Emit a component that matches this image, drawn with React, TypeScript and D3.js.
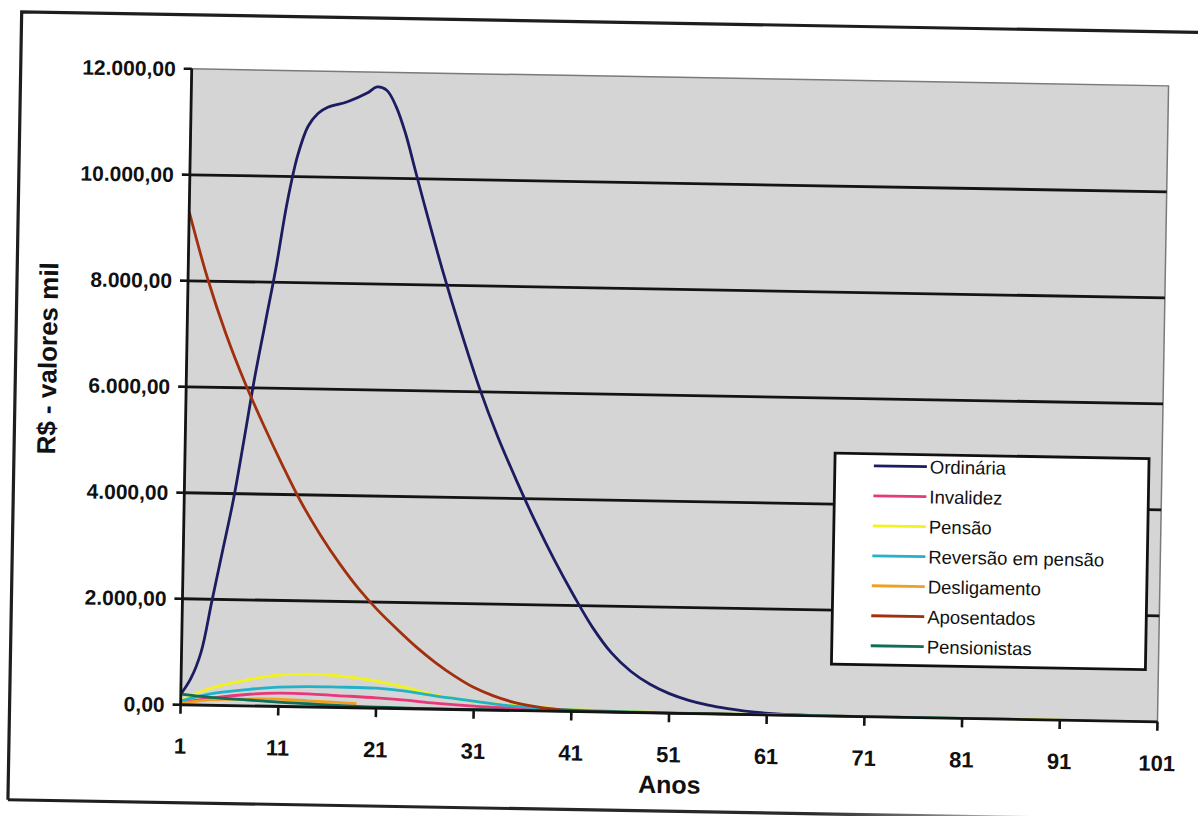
import React from "react";
import * as d3 from "d3";

// ---------- data ----------
const seriesNames = [
  "Ordinária",
  "Invalidez",
  "Pensão",
  "Reversão em pensão",
  "Desligamento",
  "Aposentados",
  "Pensionistas",
];
const seriesColors = ["#1c1c60", "#e8387c", "#f2f21e", "#22b2c8", "#f0a020", "#a0300e", "#0e6e58"];

const ordinariaYears = [1, 2, 3, 4, 5, 6, 7, 8, 9, 10, 11, 12, 13, 14, 15, 17, 19, 20, 21, 22, 23, 24, 25, 27, 29, 31, 33, 35, 37, 39, 41, 43, 45, 47, 49, 51, 53, 55, 57, 59, 62, 66, 70, 75];
const ordinariaValues = [200, 500, 1000, 1950, 2900, 3850, 5000, 6200, 7250, 8300, 9500, 10400, 10950, 11200, 11320, 11430, 11600, 11720, 11660, 11350, 10850, 10200, 9550, 8300, 7150, 6080, 5150, 4330, 3560, 2850, 2200, 1600, 1120, 780, 540, 370, 250, 165, 105, 60, 25, 5, 0, 0];

const invalidezYears = [1, 4, 8, 11, 14, 17, 21, 24, 27, 31, 34, 38, 45, 55, 65, 70];
const invalidezValues = [40, 130, 220, 250, 248, 225, 195, 160, 115, 72, 50, 30, 10, 3, 1, 0];

const pensaoYears = [1, 4, 8, 10, 14, 17, 21, 24, 27, 31, 36, 41, 46, 51, 56, 61, 66, 71, 76, 81, 86, 91];
const pensaoValues = [80, 320, 500, 570, 620, 600, 510, 400, 270, 160, 85, 40, 20, 10, 6, 4, 3, 2, 1, 1, 0, 0];

const reversaoYears = [1, 4, 8, 11, 14, 17, 21, 24, 27, 31, 34, 37, 41, 46, 51, 56, 61, 66, 71, 76, 81, 86];
const reversaoValues = [70, 213, 313, 363, 385, 385, 376, 330, 250, 165, 100, 60, 30, 15, 8, 5, 3, 2, 1, 1, 0, 0];

const desligamentoYears = [1, 4, 8, 11, 14, 17, 19];
const desligamentoValues = [25, 100, 130, 136, 115, 94, 80];

const aposentadosYears = [1, 3, 5, 7, 9, 11, 13, 15, 17, 19, 21, 23, 25, 27, 29, 31, 33, 35, 37, 39, 41, 45, 50, 58];
const aposentadosValues = [9300, 8050, 7000, 6100, 5300, 4550, 3850, 3250, 2720, 2250, 1850, 1500, 1170, 880, 630, 420, 270, 160, 90, 45, 20, 5, 0, 0];

const pensionistasYears = [1, 4, 8, 11, 14, 17, 21, 25, 30, 35, 40, 50, 61];
const pensionistasValues = [200, 150, 112, 80, 60, 38, 20, 10, 5, 3, 2, 1, 0];

const xTicks = [1, 11, 21, 31, 41, 51, 61, 71, 81, 91, 101];
const yTicks = [0, 2000, 4000, 6000, 8000, 10000, 12000];
const xTitle = "Anos";
const yTitle = "R$ - valores mil";

const allYears = [ordinariaYears, invalidezYears, pensaoYears, reversaoYears, desligamentoYears, aposentadosYears, pensionistasYears];
const allValues = [ordinariaValues, invalidezValues, pensaoValues, reversaoValues, desligamentoValues, aposentadosValues, pensionistasValues];

// ---------- layout ----------
const W = 1198;
const H = 816;
const plot = { left: 186, right: 1163, top: 76, bottom: 712 };
const FONT = "Arial, 'Liberation Sans', sans-serif";

const br = d3.formatLocale({ decimal: ",", thousands: ".", grouping: [3], currency: ["R$", ""] });
const fmt = br.format(",.2f");

export default function App() {
  const x = d3.scaleLinear().domain([1, 101]).range([plot.left, plot.right]);
  const y = d3.scaleLinear().domain([0, 12000]).range([plot.bottom, plot.top]);

  const line = d3
    .line<[number, number]>()
    .x((d) => x(d[0]))
    .y((d) => Math.min(y(d[1]), plot.bottom))
    .curve(d3.curveCatmullRom.alpha(0.5));

  const legend = { x: 836, y: 449, w: 314, h: 211 };
  const legendRow0 = 461;
  const legendStep = 30;

  return (
    <svg
      width={W}
      height={H}
      style={{ position: "absolute", left: 0, top: 0, background: "#fff" }}
    >
      <defs>
        <linearGradient id="fade" gradientUnits="userSpaceOnUse" x1={15} y1={0} x2={1200} y2={0}>
          <stop offset="0" stopColor="#1e1e1e" />
          <stop offset="0.68" stopColor="#2a2a2a" />
          <stop offset="0.8" stopColor="#8a8a8a" />
          <stop offset="0.9" stopColor="#f0f0f0" />
          <stop offset="1" stopColor="#ffffff" />
        </linearGradient>
        <clipPath id="plotclip">
          <rect x={plot.left} y={plot.top - 2} width={plot.right - plot.left} height={plot.bottom - plot.top + 3} />
        </clipPath>
      </defs>
      <g transform="rotate(1.0 600 400)">
        {/* outer frame */}
        <path d={`M1230,22 L15,22 L15,810`} fill="none" stroke="#1e1e1e" strokeWidth={3.2} />
        <path d={`M15,810 L1230,810`} fill="none" stroke="url(#fade)" strokeWidth={3.2} />

        {/* plot area */}
        <rect
          x={plot.left}
          y={plot.top}
          width={plot.right - plot.left}
          height={plot.bottom - plot.top}
          fill="#d5d5d5"
          stroke="#7a7a7a"
          strokeWidth={1.5}
        />

        {/* gridlines */}
        {yTicks
          .filter((t) => t > 0 && t < 12000)
          .map((t) => (
            <line key={t} x1={plot.left} x2={plot.right} y1={y(t)} y2={y(t)} stroke="#141414" strokeWidth={2.8} />
          ))}

        {/* series */}
        <g clipPath="url(#plotclip)">
          {seriesNames.map((name, i) => {
            const pts: [number, number][] = allYears[i].map((yr, j) => [yr, allValues[i][j]]);
            return (
              <path
                key={name}
                d={line(pts) || ""}
                fill="none"
                stroke={seriesColors[i]}
                strokeWidth={2.8}
                strokeLinejoin="round"
              />
            );
          })}
        </g>

        {/* axes */}
        <line x1={plot.left} x2={plot.left} y1={plot.top} y2={plot.bottom} stroke="#141414" strokeWidth={2.8} />
        <line x1={plot.left} x2={plot.right} y1={plot.bottom} y2={plot.bottom} stroke="#141414" strokeWidth={2.8} />

        {yTicks.map((t) => (
          <g key={"yt" + t}>
            <line x1={plot.left - 8} x2={plot.left} y1={y(t)} y2={y(t)} stroke="#141414" strokeWidth={2.6} />
            <text
              x={170}
              y={y(t)}
              dy="0.36em"
              textAnchor="end"
              fontFamily={FONT}
              fontWeight="bold"
              fontSize={21}
              fill="#111"
            >
              {fmt(t)}
            </text>
          </g>
        ))}

        {xTicks.map((t) => (
          <g key={"xt" + t}>
            <line x1={x(t)} x2={x(t)} y1={plot.bottom} y2={plot.bottom + 9} stroke="#141414" strokeWidth={2.6} />
            <text
              x={x(t)}
              y={plot.bottom + 49}
              textAnchor="middle"
              fontFamily={FONT}
              fontWeight="bold"
              fontSize={22}
              fill="#111"
            >
              {t}
            </text>
          </g>
        ))}

        <text x={676} y={792} textAnchor="middle" fontFamily={FONT} fontWeight="bold" fontSize={25} fill="#111">
          {xTitle}
        </text>
        <text
          transform={`translate(56,368) rotate(-90)`}
          textAnchor="middle"
          fontFamily={FONT}
          fontWeight="bold"
          fontSize={26}
          fill="#111"
        >
          {yTitle}
        </text>

        {/* legend */}
        <rect x={legend.x} y={legend.y} width={legend.w} height={legend.h} fill="#fff" stroke="#111" strokeWidth={2.8} />
        {seriesNames.map((name, i) => {
          const cy = legendRow0 + i * legendStep;
          return (
            <g key={"lg" + name}>
              <line x1={875} x2={928} y1={cy} y2={cy} stroke={seriesColors[i]} strokeWidth={2.8} />
              <text x={931} y={cy} dy="0.36em" fontFamily={FONT} fontSize={18.5} fill="#111">
                {name}
              </text>
            </g>
          );
        })}
      </g>
    </svg>
  );
}
